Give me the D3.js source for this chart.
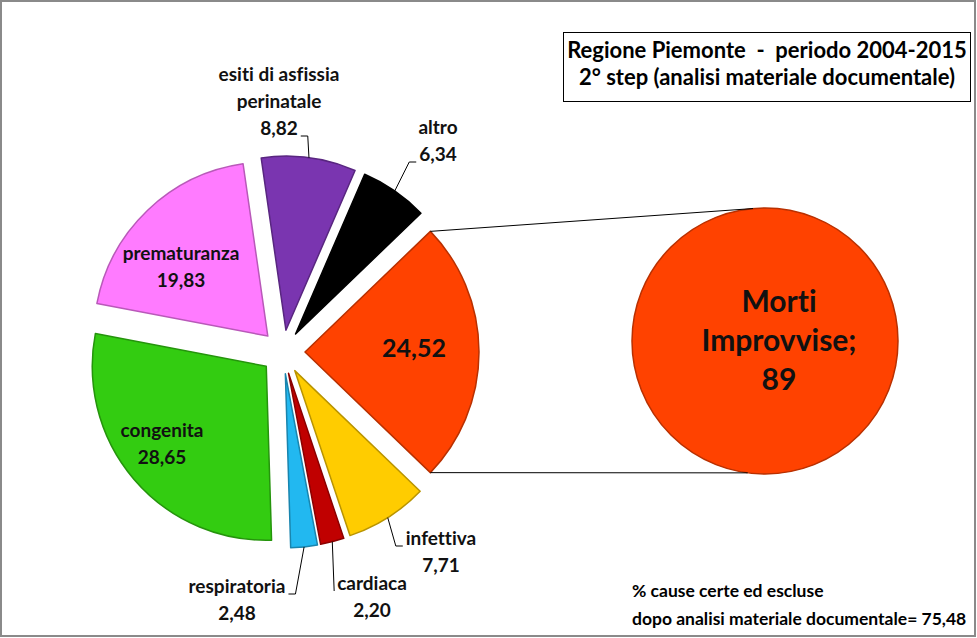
<!DOCTYPE html>
<html><head><meta charset="utf-8">
<script src="https://cdn.jsdelivr.net/npm/d3@7"></script>
<style>
html,body{margin:0;padding:0;background:#fff;}
svg{display:block;font-family:Lato,"Open Sans",sans-serif;font-weight:bold;}
svg text{white-space:pre;font-variant-ligatures:none;font-feature-settings:"liga" 0,"clig" 0;}
</style>
</head><body>
<svg id="chart" width="977" height="638"></svg>
<script>
// ---- data ----
const categories = ["Morti Improvvise", "infettiva", "cardiaca", "respiratoria", "congenita", "prematuranza", "esiti di asfissia perinatale", "altro"];
const values = [24.52, 7.71, 2.20, 2.48, 28.65, 19.83, 8.82, 6.34];
const valueLabels = ["24,52", "7,71", "2,20", "2,48", "28,65", "19,83", "8,82", "6,34"];
const labelLines = [[], ["infettiva"], ["cardiaca"], ["respiratoria"], ["congenita"], ["prematuranza"], ["esiti di asfissia", "perinatale"], ["altro"]];
const colors = ["#ff4200", "#ffcc00", "#c00000", "#22b8f0", "#33cc11", "#ff7bff", "#7a35b0", "#000000"];
const secondCategory = ["Morti Improvvise"];
const secondValues = [89];
const secondLabelLines = ["Morti", "Improvvise;", "89"];
const titleLines = ["Regione Piemonte  -  periodo 2004-2015", "2° step (analisi materiale documentale)"];
const noteLines = ["% cause certe ed escluse", "dopo analisi materiale documentale= 75,48"];

// ---- layout ----
const svg = d3.select("#chart");
const cx = 283, cy = 352, R = 174, explode = 22;
const c2x = 765, c2y = 341, R2 = 133;

svg.append("rect").attr("x", 1).attr("y", 1).attr("width", 974).attr("height", 635)
  .attr("fill", "#fff").attr("stroke", "#8a8a8a").attr("stroke-width", 2);

// first pie: "Morti Improvvise" slice centred on the right side
const total = d3.sum(values);
const firstAngle = values[0] / total * 2 * Math.PI;
const start = Math.PI / 2 - firstAngle / 2;
const pie = d3.pie().sort(null).startAngle(start).endAngle(start + 2 * Math.PI);
const arcs = pie(values);
const arc = d3.arc().innerRadius(0).outerRadius(R);

const offset = d => {
  const a = (d.startAngle + d.endAngle) / 2;
  return [explode * Math.sin(a), -explode * Math.cos(a)];
};
const polar = (d, a, r) => {
  const o = offset(d);
  return [cx + o[0] + r * Math.sin(a), cy + o[1] - r * Math.cos(a)];
};

const gPie = svg.append("g");
gPie.selectAll("path.slice").data(arcs).join("path")
  .attr("class", "slice")
  .attr("transform", d => { const o = offset(d); return `translate(${cx + o[0]},${cy + o[1]})`; })
  .attr("d", arc)
  .attr("fill", (d, i) => colors[i])
  .attr("stroke", (d, i) => d3.color(colors[i]).darker(0.9))
  .attr("stroke-width", 1.5)
  .attr("stroke-linejoin", "round");

// second pie (one slice -> full circle)
const pie2 = d3.pie().sort(null);
const arc2 = d3.arc().innerRadius(0).outerRadius(R2);
svg.append("g").attr("transform", `translate(${c2x},${c2y})`)
  .selectAll("path").data(pie2(secondValues)).join("path")
  .attr("d", arc2).attr("fill", colors[0])
  .attr("stroke", d3.color(colors[0]).darker(0.9)).attr("stroke-width", 1.5);

// connector lines
const d0 = arcs[0];
const pTop = polar(d0, d0.startAngle, R);
const pBot = polar(d0, d0.endAngle, R);
svg.append("line").attr("x1", pTop[0]).attr("y1", pTop[1])
  .attr("x2", c2x - 0.09 * R2).attr("y2", c2y - R2 * Math.sqrt(1 - 0.09 * 0.09))
  .attr("stroke", "#000").attr("stroke-width", 1);
svg.append("line").attr("x1", pBot[0]).attr("y1", pBot[1])
  .attr("x2", c2x - 0.13 * R2).attr("y2", c2y + R2 * Math.sqrt(1 - 0.13 * 0.13))
  .attr("stroke", "#000").attr("stroke-width", 1);

// labels: [centre x offset, first baseline offset] from pie centre
const labelPos = [[131, 5], [158, 193], [89, 238], [-46, 241], [-121, 85], [-102, -92], [-4, -271], [155, -218]];
const labelSize = [25, 19, 19, 19, 19, 19, 19, 19];
const leader = [null, {line: 0, side: "left"}, {line: 0, side: "left", straight: true}, {line: 0, side: "right"}, null, null, {line: 2, side: "right"}, {line: 1, side: "left"}];
const lineH = 27;

const gLab = svg.append("g");
arcs.forEach((d, i) => {
  const lines = labelLines[i].concat([valueLabels[i]]);
  const x = cx + labelPos[i][0], y0 = cy + labelPos[i][1];
  const t = gLab.append("text").attr("text-anchor", "middle")
    .attr("font-size", labelSize[i]).attr("fill", "#111");
  const spans = lines.map((s, k) => t.append("tspan").attr("x", x).attr("y", y0 + k * lineH).text(s));
  const L = leader[i];
  if (L) {
    const w = spans[L.line].node().getComputedTextLength();
    const by = y0 + L.line * lineH + 1;
    const ax = L.side === "left" ? x - w / 2 - 3 : x + w / 2 + 3;
    const ex = L.straight ? ax : (L.side === "left" ? ax - 7 : ax + 7);
    const a = (d.startAngle + d.endAngle) / 2;
    const p = polar(d, a, R);
    gLab.append("polyline")
      .attr("points", [p, [ex, by], [ax, by]].map(q => q.join(",")).join(" "))
      .attr("fill", "none").attr("stroke", "#000").attr("stroke-width", 1);
  }
});

// second pie label
const t2 = svg.append("text").attr("text-anchor", "middle").attr("font-size", 30).attr("fill", "#111");
secondLabelLines.forEach((s, k) => t2.append("tspan").attr("x", c2x + 14).attr("y", 312 + k * 39).text(s));

// title box
svg.append("rect").attr("x", 563.5).attr("y", 32.5).attr("width", 407).attr("height", 69)
  .attr("fill", "#fff").attr("stroke", "#000").attr("stroke-width", 1);
const tt = svg.append("text").attr("text-anchor", "middle").attr("font-size", 22).attr("fill", "#000");
titleLines.forEach((s, k) => tt.append("tspan").attr("x", 767).attr("y", 58 + k * 27).text(s));

// note
const nt = svg.append("text").attr("font-size", 17.5).attr("fill", "#000");
noteLines.forEach((s, k) => nt.append("tspan").attr("x", 632).attr("y", 597 + k * 28).text(s));
</script>
</body></html>
